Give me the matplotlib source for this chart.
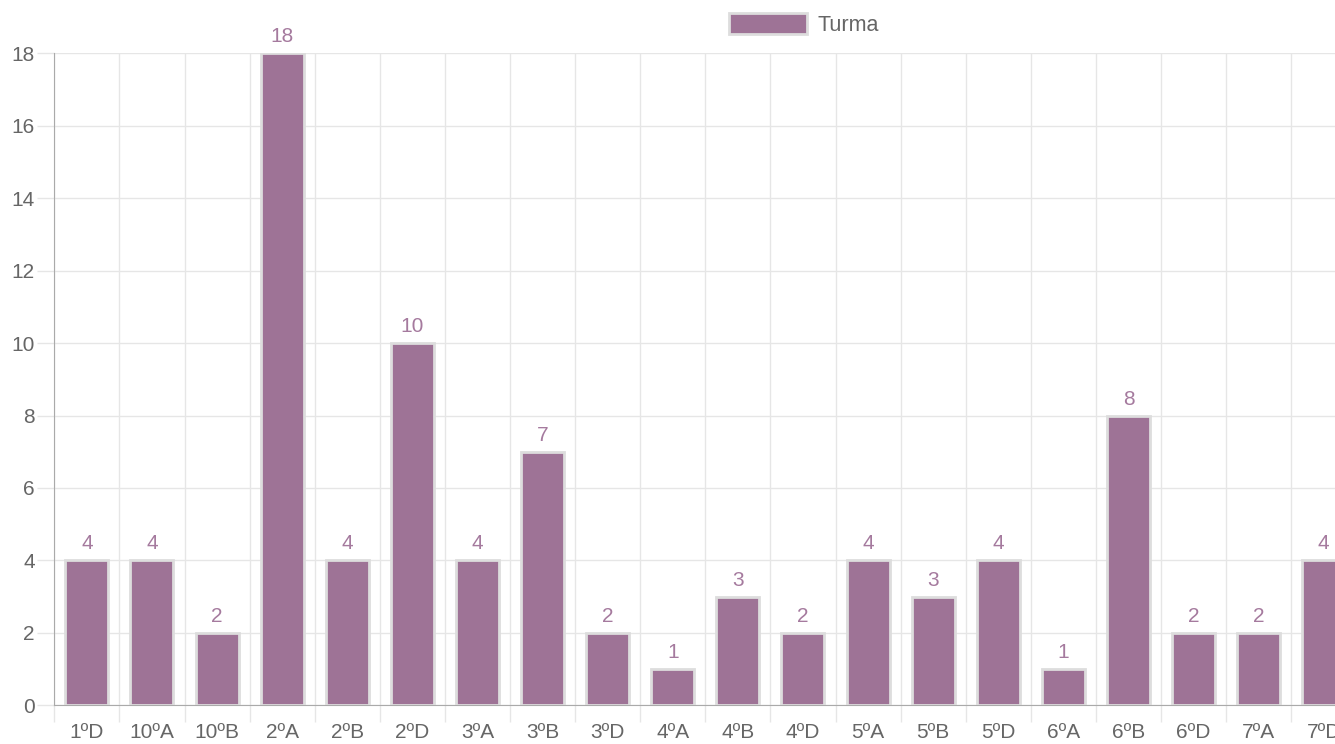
import matplotlib.pyplot as plt
import numpy as np

# dados
turmas = ['1ºD', '10ºA', '10ºB', '2ºA', '2ºB', '2ºD', '3ºA', '3ºB', '3ºD', '4ºA',
          '4ºB', '4ºD', '5ºA', '5ºB', '5ºD', '6ºA', '6ºB', '6ºD', '7ºA', '7ºD']
valores = [4, 4, 2, 18, 4, 10, 4, 7, 2, 1, 3, 2, 4, 3, 4, 1, 8, 2, 2, 4]
y_ticks = [0, 2, 4, 6, 8, 10, 12, 14, 16, 18]

plt.rcParams['font.family'] = ['Liberation Sans', 'DejaVu Sans']

cor_barra = '#9e7396'
cor_texto = '#666666'
cor_grade = '#e6e6e6'

fig = plt.figure(figsize=(13.35, 7.44), dpi=100)
ax = fig.add_axes([54.3 / 1335, 38.7 / 744, 1 - 54.3 / 1335, (705.3 - 53.3) / 744])

x = np.arange(len(turmas))
barras = ax.bar(x, valores, width=0.66, color=cor_barra, edgecolor='#dddddd',
                linewidth=2, label='Turma', zorder=3)
ax.bar_label(barras, padding=5, color='#a57a9e', fontsize=15)

ax.set_yticks(y_ticks)

# rótulos no centro, linhas entre as categorias
ax.set_xticks(x)
ax.set_xticklabels(turmas)
ax.set_xticks(np.arange(len(turmas) + 1) - 0.5, minor=True)
ax.tick_params(axis='x', which='major', length=0, pad=13, labelsize=15, labelcolor=cor_texto)
ax.tick_params(axis='x', which='minor', length=12, color=cor_grade, width=1)
ax.tick_params(axis='y', length=12, color=cor_grade, width=1, pad=2,
               labelsize=15, labelcolor=cor_texto)

# limites depois dos ticks (o gráfico original está cortado à direita)
ax.set_xlim(-0.5, -0.5 + (1335 - 54.3) / 65.1)
ax.set_ylim(0, 18)

ax.grid(axis='y', color=cor_grade, linewidth=1, zorder=0)
ax.grid(axis='x', which='minor', color=cor_grade, linewidth=1, zorder=0)

for lado in ['top', 'right']:
    ax.spines[lado].set_visible(False)
ax.spines['left'].set_color('#aaaaaa')
ax.spines['bottom'].set_color('#aaaaaa')

leg = fig.legend(loc='upper left', bbox_to_anchor=(710 / 1335, 1 + 6 / 744),
                 frameon=False, fontsize=15.5, handlelength=3.6, handleheight=1.1,
                 handletextpad=0.5, labelcolor=cor_texto)

fig.savefig('out.png', dpi=100)
